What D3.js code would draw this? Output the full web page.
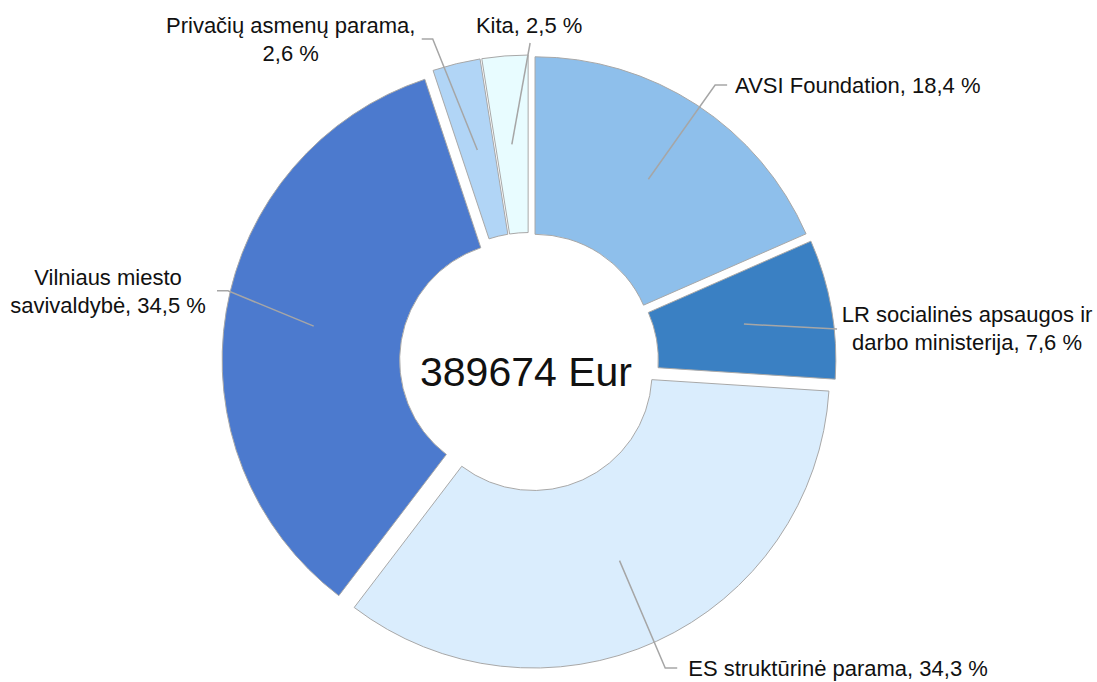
<!DOCTYPE html>
<html>
<head>
<meta charset="utf-8">
<script src="https://cdn.jsdelivr.net/npm/d3@7"></script>
<style>
  html, body { margin: 0; padding: 0; background: #fff; }
  svg text { font-family: "Liberation Sans", Arial, sans-serif; fill: #111; }
</style>
</head>
<body>
<svg id="chart" width="1097" height="682"></svg>
<script>
// ---- data ----
const categories = ["AVSI Foundation", "LR socialinės apsaugos ir darbo ministerija", "ES struktūrinė parama", "Vilniaus miesto savivaldybė", "Privačių asmenų parama", "Kita"];
const values = [18.4, 7.6, 34.3, 34.5, 2.6, 2.5];
const labelLines = [
  ["AVSI Foundation, 18,4 %"],
  ["LR socialinės apsaugos ir", "darbo ministerija, 7,6 %"],
  ["ES struktūrinė parama, 34,3 %"],
  ["Vilniaus miesto", "savivaldybė, 34,5 %"],
  ["Privačių asmenų parama,", "2,6 %"],
  ["Kita, 2,5 %"]
];
const totalLabel = "389674 Eur";

// ---- styles / layout ----
const colors = ["#8EBFEB", "#3A80C3", "#DAEDFD", "#4C7ACE", "#B1D5F6", "#E8FCFF"];
const cx = 529, cy = 362, R = 296, r = 118.5, explode = 11;
// leader elbow: [angle deg, radius], tail dx, text anchor, text dx, text dy (first baseline rel. to elbow)
const labelLayout = [
  {ang: 33.9, rad: 333.7, tail: 12, anchor: "start", tx: 8, ty: 8},
  {ang: 83.9, rad: 309.8, tail: 0, anchor: "middle", tx: 130, ty: -7},
  {ang: 156.0, rad: 334.9, tail: 12, anchor: "start", tx: 11, ty: 8},
  {ang: 283.3, rad: 309.3, tail: -11, anchor: "middle", tx: -109, ty: -6},
  {ang: 343.4, rad: 337.0, tail: -11, anchor: "middle", tx: -131, ty: -6},
  {ang: 0.2, rad: 319.0, tail: 0, anchor: "middle", tx: -1, ty: -10}
];
const lineGap = 28;

const svg = d3.select("#chart");
const g = svg.append("g").attr("transform", `translate(${cx},${cy})`);

const pie = d3.pie().sort(null).value(d => d);
const arcs = pie(values);
const arc = d3.arc().innerRadius(r).outerRadius(R);

const polar = (angDeg, rad) => {
  const a = angDeg * Math.PI / 180;
  return [rad * Math.sin(a), -rad * Math.cos(a)];
};

arcs.forEach((a, i) => {
  const mid = (a.startAngle + a.endAngle) / 2;
  const ox = explode * Math.sin(mid), oy = -explode * Math.cos(mid);
  g.append("path")
    .attr("d", arc(a))
    .attr("transform", `translate(${ox},${oy})`)
    .attr("fill", colors[i])
    .attr("stroke", "#a8a8a8")
    .attr("stroke-width", 1);
});

// leader lines + labels
arcs.forEach((a, i) => {
  const mid = (a.startAngle + a.endAngle) / 2;
  const ox = explode * Math.sin(mid), oy = -explode * Math.cos(mid);
  const c = arc.centroid(a);
  const start = [c[0] + ox, c[1] + oy];
  const L = labelLayout[i];
  const elbow = polar(L.ang, L.rad);
  const tailEnd = [elbow[0] + L.tail, elbow[1]];
  g.append("path")
    .attr("d", d3.line()([start, elbow, tailEnd]))
    .attr("fill", "none")
    .attr("stroke", "#a6a6a6")
    .attr("stroke-width", 1.5);
  const t = g.append("text")
    .attr("text-anchor", L.anchor)
    .attr("font-size", 22);
  labelLines[i].forEach((ln, j) => {
    t.append("tspan")
      .attr("x", tailEnd[0] + L.tx)
      .attr("y", tailEnd[1] + L.ty + j * lineGap)
      .text(ln);
  });
});

// center label
g.append("text")
  .attr("x", -3)
  .attr("y", 24)
  .attr("text-anchor", "middle")
  .attr("font-size", 41)
  .text(totalLabel);
</script>
</body>
</html>
